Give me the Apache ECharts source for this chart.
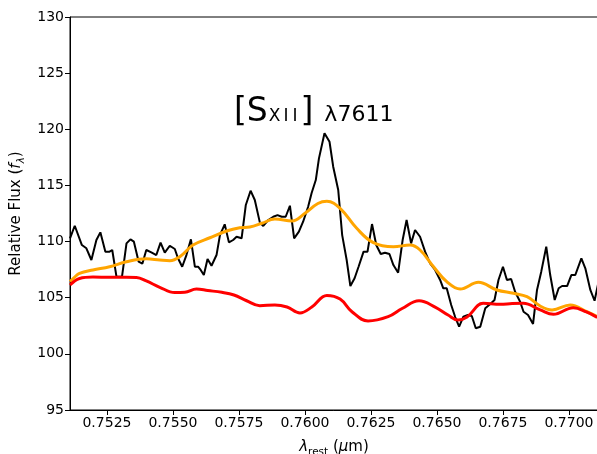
<!DOCTYPE html>
<html>
<head>
<meta charset="utf-8">
<script src="https://cdn.jsdelivr.net/npm/echarts@6/dist/echarts.min.js"></script>
<style>html,body{margin:0;padding:0;background:#fff;}#c{width:597px;height:454px;}</style>
</head>
<body>
<div id="c"></div>
<script>
// Observed spectrum (black)
const specWave = [0.75110,0.75128,0.75155,0.75172,0.75191,0.75210,0.75225,0.75244,0.75260,0.75270,
0.75286,0.75307,0.75324,0.75339,0.75352,0.75370,0.75384,0.75399,0.75418,0.75437,
0.75453,0.75469,0.75488,0.75507,0.75519,0.75535,0.75551,0.75568,0.75583,0.75595,
0.75605,0.75617,0.75631,0.75646,0.75665,0.75678,0.75696,0.75712,0.75728,0.75741,
0.75760,0.75776,0.75794,0.75810,0.75829,0.75842,0.75861,0.75880,0.75896,0.75912,
0.75927,0.75943,0.75959,0.75977,0.75993,0.76012,0.76025,0.76041,0.76053,0.76074,
0.76093,0.76107,0.76126,0.76141,0.76158,0.76172,0.76188,0.76203,0.76222,0.76237,
0.76254,0.76270,0.76287,0.76303,0.76320,0.76335,0.76353,0.76370,0.76385,0.76402,
0.76417,0.76436,0.76455,0.76474,0.76493,0.76512,0.76524,0.76537,0.76554,0.76569,
0.76584,0.76600,0.76617,0.76632,0.76647,0.76664,0.76683,0.76702,0.76718,0.76733,
0.76750,0.76765,0.76781,0.76796,0.76815,0.76828,0.76845,0.76864,0.76879,0.76895,
0.76914,0.76929,0.76946,0.76961,0.76974,0.76993,0.77009,0.77024,0.77047,0.77062,
0.77081,0.77097,0.77111];
const specFlux = [110.29,111.41,109.69,109.40,108.36,110.14,110.82,109.10,109.10,109.25,
106.87,106.87,109.84,110.20,109.99,108.21,108.03,109.25,109.04,108.80,
109.90,109.01,109.63,109.34,108.51,107.76,108.80,110.20,107.76,107.76,
107.47,107.02,108.45,107.85,108.80,110.58,111.54,109.93,110.14,110.43,
110.29,113.26,114.53,113.70,111.71,111.39,111.92,112.21,112.36,112.21,
112.21,113.19,110.29,110.88,111.77,113.10,114.30,115.48,117.41,119.64,
118.89,116.67,114.59,110.58,108.36,106.04,106.73,107.76,109.10,109.10,
111.56,109.69,108.89,109.01,108.89,107.91,107.23,110.14,111.92,109.84,
111.03,110.43,109.10,108.06,107.47,106.58,105.84,105.84,104.35,103.28,
102.42,103.31,103.46,103.37,102.28,102.42,104.06,104.44,104.80,106.58,
107.76,106.58,106.67,105.53,104.64,103.75,103.46,102.66,105.69,107.32,
109.54,107.02,104.80,105.84,106.04,106.04,107.02,107.02,108.51,107.62,
105.69,104.73,106.31];

// Model (orange)
const modelWave = [0.75110,0.75128,0.75146,0.75197,0.75260,0.75324,0.75399,0.75450,0.75488,0.75526,
0.75576,0.75640,0.75703,0.75753,0.75791,0.75837,0.75886,0.75951,0.76000,0.76049,
0.76083,0.76133,0.76196,0.76259,0.76335,0.76398,0.76436,0.76487,0.76537,0.76588,
0.76657,0.76727,0.76790,0.76841,0.76891,0.76936,0.77005,0.77068,0.77111];
const modelFlux = [106.43,106.84,107.17,107.47,107.76,108.21,108.47,108.36,108.30,108.65,
109.69,110.34,110.94,111.23,111.30,111.63,112.01,111.83,112.52,113.39,
113.59,112.96,111.18,109.90,109.54,109.69,109.25,107.76,106.43,105.77,
106.37,105.69,105.39,105.09,104.26,103.91,104.35,103.75,103.28];

// Continuum (red)
const contWave = [0.75110,0.75146,0.75197,0.75260,0.75324,0.75362,0.75399,0.75450,0.75507,0.75545,
0.75589,0.75632,0.75685,0.75731,0.75779,0.75829,0.75886,0.75932,0.75981,0.76026,
0.76083,0.76133,0.76178,0.76239,0.76315,0.76368,0.76432,0.76493,0.76542,0.76580,
0.76614,0.76675,0.76740,0.76785,0.76827,0.76891,0.76941,0.77016,0.77066,0.77107];
const contFlux = [106.13,106.71,106.84,106.82,106.82,106.80,106.49,105.93,105.46,105.48,
105.77,105.64,105.48,105.24,104.73,104.29,104.35,104.17,103.64,104.17,
105.20,104.88,103.75,102.93,103.31,104.04,104.73,104.17,103.46,103.01,
103.28,104.50,104.41,104.48,104.50,103.91,103.52,104.11,103.73,103.25];

const xTicks = [0.7525,0.7550,0.7575,0.7600,0.7625,0.7650,0.7675,0.7700];
const yTicks = [95,100,105,110,115,120,125,130];

const pairs = (xs, ys) => xs.map((x, i) => [x, ys[i]]);
const FONT = 'DejaVu Sans';

const chart = echarts.init(document.getElementById('c'), null, {renderer: 'canvas'});
chart.setOption({
  animation: false,
  backgroundColor: '#fff',
  textStyle: {fontFamily: FONT},
  grid: {left: 70, top: 17, width: 528, height: 393, containLabel: false, outerBoundsMode: 'none',
    show: true, borderColor: '#000', borderWidth: 1, backgroundColor: 'transparent'},
  xAxis: {
    type: 'value', min: 0.7511, max: 0.7711,
    axisLine: {show: true, onZero: false, lineStyle: {color: '#000', width: 1}},
    axisTick: {show: true, inside: false, length: 5, lineStyle: {color: '#000'}, customValues: xTicks},
    axisLabel: {show: true, color: '#000', fontSize: 14, fontFamily: FONT, margin: 6, customValues: xTicks,
      formatter: v => v.toFixed(4)},
    splitLine: {show: false},
    name: '{i|λ}{s|rest}{n| (}{i|μ}{n|m)}',
    nameLocation: 'middle', nameGap: 30,
    nameTextStyle: {color: '#000', fontFamily: FONT,
      rich: {
        n: {fontSize: 15, fontFamily: FONT, color: '#000', lineHeight: 15, verticalAlign: 'top'},
        i: {fontSize: 15, fontFamily: FONT, fontStyle: 'italic', color: '#000', lineHeight: 15, verticalAlign: 'top'},
        s: {fontSize: 10.5, fontFamily: FONT, color: '#000', lineHeight: 18, verticalAlign: 'bottom'}
      }}
  },
  yAxis: {
    type: 'value', min: 95, max: 130, interval: 5,
    axisLine: {show: true, lineStyle: {color: '#000', width: 1}},
    axisTick: {show: true, inside: false, length: 5, lineStyle: {color: '#000'}},
    axisLabel: {show: true, color: '#000', fontSize: 14, fontFamily: FONT, margin: 6,
      formatter: v => (yTicks.indexOf(v) >= 0 ? String(v) : '')},
    splitLine: {show: false},
    name: '{n|Relative Flux (}{i|f}{s|λ}{n|)}',
    nameLocation: 'middle', nameGap: 38, nameRotate: 90,
    nameTextStyle: {color: '#000', fontFamily: FONT,
      rich: {
        n: {fontSize: 15, fontFamily: FONT, color: '#000', lineHeight: 15, verticalAlign: 'top'},
        i: {fontSize: 15, fontFamily: FONT, fontStyle: 'italic', color: '#000', lineHeight: 15, verticalAlign: 'top'},
        s: {fontSize: 10.5, fontFamily: FONT, fontStyle: 'italic', color: '#000', lineHeight: 18, verticalAlign: 'bottom'}
      }}
  },
  graphic: [{
    type: 'text', left: 234, top: 96, z: 100,
    style: {
      text: '{a|[S}{x|X}{i1|I}{i2|I}{r|]}{c|λ7611}',
      rich: {
        a: {fontSize: 33, fontFamily: FONT, fill: '#000', lineHeight: 40, verticalAlign: 'bottom'},
        x: {fontSize: 17, fontFamily: FONT, fill: '#000', lineHeight: 36, verticalAlign: 'bottom', padding: [0, 0, 4, 1]},
        i1: {fontSize: 17, fontFamily: FONT, fill: '#000', lineHeight: 36, verticalAlign: 'bottom', padding: [0, 0, 4, 3]},
        i2: {fontSize: 17, fontFamily: FONT, fill: '#000', lineHeight: 36, verticalAlign: 'bottom', padding: [0, 0, 4, 4]},
        r: {fontSize: 33, fontFamily: FONT, fill: '#000', lineHeight: 40, verticalAlign: 'bottom', padding: [0, 0, 0, 3]},
        c: {fontSize: 22, fontFamily: FONT, fill: '#000', lineHeight: 37, verticalAlign: 'bottom', padding: [0, 0, 3, 11]}
      }
    }
  }],
  series: [
    {type: 'line', data: pairs(specWave, specFlux), showSymbol: false, smooth: false,
      lineStyle: {color: '#000', width: 2}, itemStyle: {color: '#000'}, z: 2},
    {type: 'line', data: pairs(modelWave, modelFlux), showSymbol: false, smooth: 0.4,
      lineStyle: {color: '#FFA500', width: 3}, itemStyle: {color: '#FFA500'}, z: 3},
    {type: 'line', data: pairs(contWave, contFlux), showSymbol: false, smooth: 0.4,
      lineStyle: {color: '#FF0000', width: 3}, itemStyle: {color: '#FF0000'}, z: 4}
  ]
});
</script>
</body>
</html>
